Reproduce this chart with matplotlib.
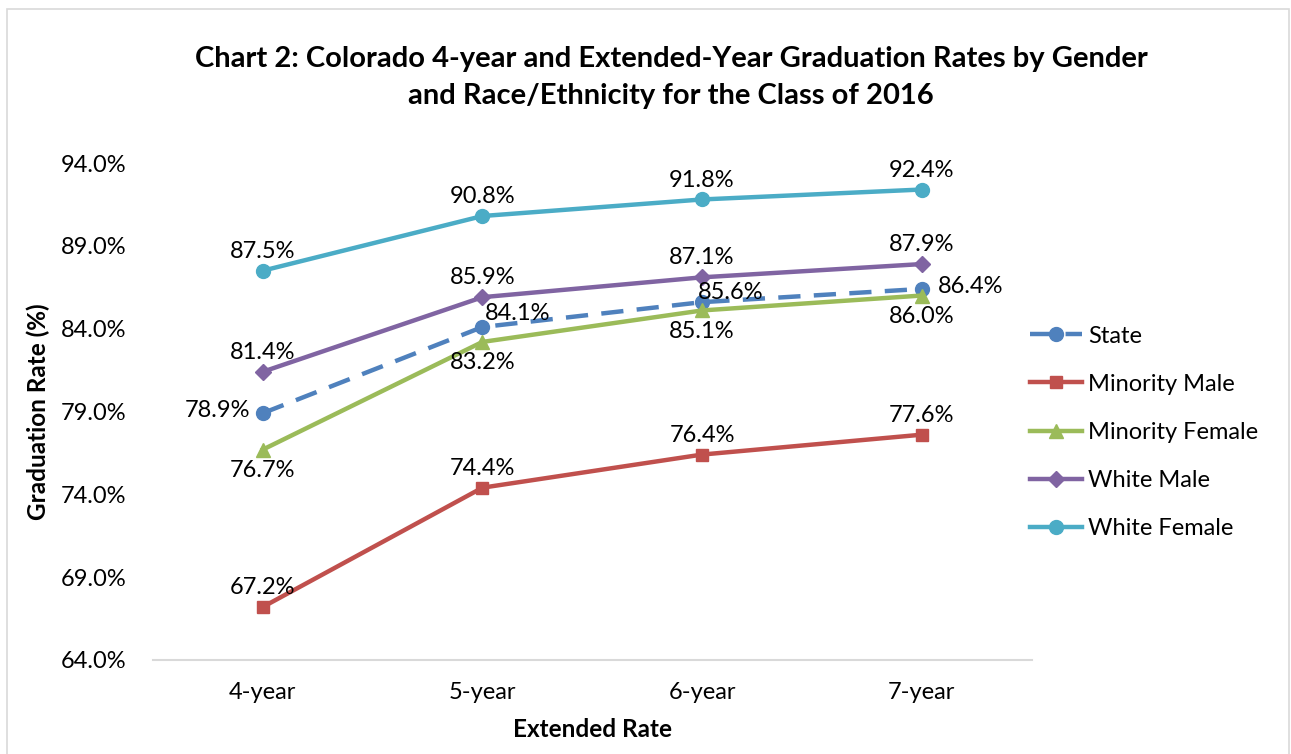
import matplotlib.pyplot as plt
from matplotlib.patches import Rectangle

plt.rcParams['font.family'] = ['Lato', 'DejaVu Sans']

years = ["4-year", "5-year", "6-year", "7-year"]
state = [78.9, 84.1, 85.6, 86.4]
minority_male = [67.2, 74.4, 76.4, 77.6]
minority_female = [76.7, 83.2, 85.1, 86.0]
white_male = [81.4, 85.9, 87.1, 87.9]
white_female = [87.5, 90.8, 91.8, 92.4]
y_ticks = [64.0, 69.0, 74.0, 79.0, 84.0, 89.0, 94.0]

fig = plt.figure(figsize=(12.91, 7.54), dpi=100)
ax = fig.add_axes([0.1185, 0.1247, 0.6805, 0.6591])

# outer chart border
fig.patches.append(Rectangle((0.0055, -0.01), 0.993, 0.998, transform=fig.transFigure,
                             fill=False, edgecolor='#d9d9d9', lw=1.2))

x = range(len(years))
lw = 3.2
ax.plot(x, state, color='#4f81bd', lw=lw, marker='o', ms=10, dashes=(5, 3),
        label='State', zorder=3)
ax.plot(x, minority_male, color='#c0504d', lw=lw, marker='s', ms=9,
        label='Minority Male', zorder=3)
ax.plot(x, minority_female, color='#9bbb59', lw=lw, marker='^', ms=10,
        label='Minority Female', zorder=3)
ax.plot(x, white_male, color='#8064a2', lw=lw, marker='D', ms=8,
        label='White Male', zorder=3)
ax.plot(x, white_female, color='#4bacc6', lw=lw, marker='o', ms=10,
        label='White Female', zorder=3)

fs = 17


def lab(xi, v, dx, dy, ha='center'):
    ax.annotate(f"{v:.1f}%", (xi, v), xytext=(dx, dy), textcoords='offset points',
                ha=ha, va='center', fontsize=fs, color='black', zorder=5)


for i in x:
    lab(i, minority_male[i], 0, 14)
    lab(i, minority_female[i], 0, -15)
    lab(i, white_male[i], 0, 14)
    lab(i, white_female[i], 0, 14)

# state labels are placed by hand around the point
lab(0, state[0], -9, 2, ha='right')
lab(1, state[1], 2, 10, ha='left')
lab(2, state[2], -3, 7, ha='left')
lab(3, state[3], 12, 2, ha='left')

ax.set_xlim(-0.5, 3.5)
ax.set_ylim(64, 94)
ax.set_yticks(y_ticks)
ax.set_yticklabels([f"{t:.1f}%" for t in y_ticks], fontsize=fs)
ax.set_xticks(list(x))
ax.set_xticklabels(years, fontsize=fs)
ax.tick_params(axis='y', length=0, pad=19)
ax.tick_params(axis='x', length=0, pad=16)
for s in ['top', 'right', 'left']:
    ax.spines[s].set_visible(False)
ax.spines['bottom'].set_color('#d9d9d9')
ax.spines['bottom'].set_linewidth(1.5)

ax.set_ylabel("Graduation Rate (%)", fontsize=17.5, fontweight='bold', labelpad=8)
ax.set_xlabel("Extended Rate", fontsize=17.5, fontweight='bold', labelpad=11)

fig.text(0.52, 0.897, "Chart 2: Colorado 4-year and Extended-Year Graduation Rates by Gender\n"
         "and Race/Ethnicity for the Class of 2016", ha='center', va='center',
         fontsize=21, fontweight='bold', linespacing=1.55)

ax.legend(loc='center left', bbox_to_anchor=(0.974, 0.458), frameon=False, fontsize=fs,
          handlelength=2.2, labelspacing=1.15, handletextpad=0.25)

fig.savefig("out.png", dpi=100)
